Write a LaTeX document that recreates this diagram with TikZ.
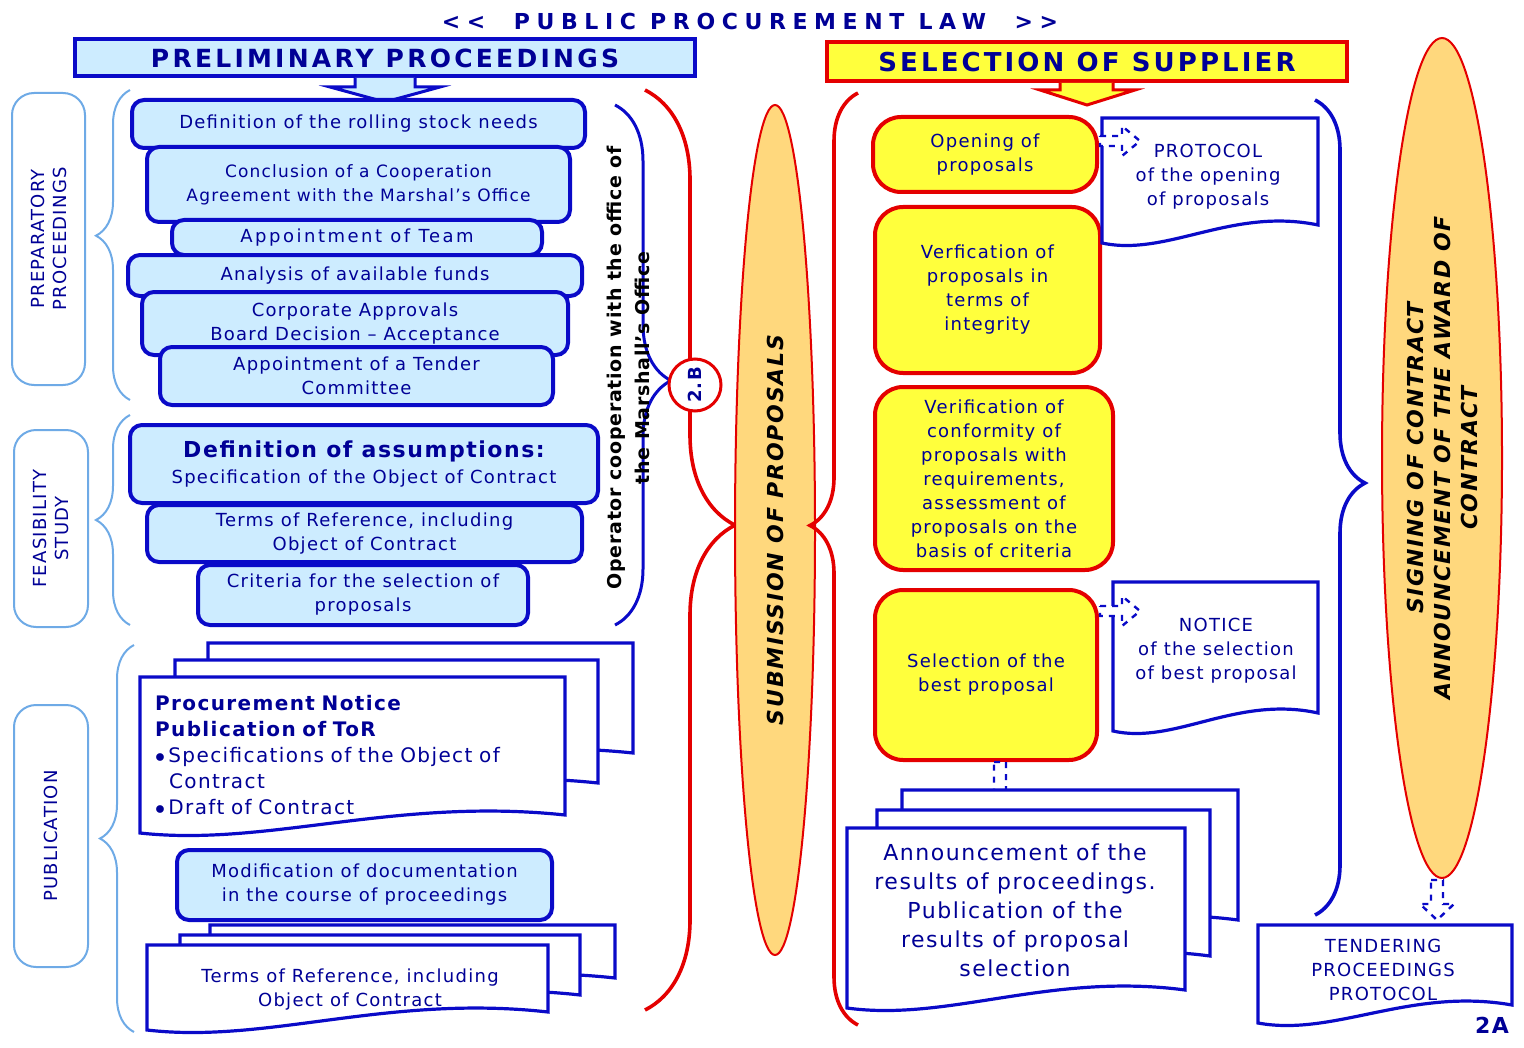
\documentclass[tikz,border=0pt]{standalone}
\usepackage{fontspec}
\setmainfont{DejaVu Sans}[LetterSpace=7]
\usetikzlibrary{shapes.geometric,decorations.pathreplacing}
\definecolor{dblue}{RGB}{10,10,200}
\definecolor{tblue}{RGB}{0,0,150}
\definecolor{lblue}{RGB}{205,236,255}
\definecolor{labblue}{RGB}{110,170,230}
\definecolor{yel}{RGB}{255,255,60}
\definecolor{rd}{RGB}{228,0,0}
\definecolor{orng}{RGB}{255,216,125}
\newcommand\bx[6]{\node[bb,minimum width=#4*0.5pt,minimum height=#5*0.5pt] (#1) at (#2,#3) {#6};}
\newcommand\yb[6]{\node[yb,minimum width=#4*0.5pt,minimum height=#5*0.5pt] (#1) at (#2,#3) {#6};}
\newcommand\docu[4]{\filldraw[doc] (#1,#2) -- (#3,#2) -- (#3,{#4-22}) .. controls ({#1+0.6*(#3-#1)},{#4-40}) and ({#1+0.3*(#3-#1)},{#4+10}) .. (#1,{#4-4}) -- cycle;}
% right-pointing hollow dashed arrow: start x, y
\newcommand\rarr[2]{\filldraw[harrow] (#1,{#2-5}) -- ({#1+22},{#2-5}) -- ({#1+22},{#2-15}) -- ({#1+40},#2) -- ({#1+22},{#2+15}) -- ({#1+22},{#2+5}) -- (#1,{#2+5}) -- cycle;}
\newcommand\darr[3]{\filldraw[harrow] ({#1-6},#2) -- ({#1+6},#2) -- ({#1+6},{#3-16}) -- ({#1+17},{#3-16}) -- (#1,#3) -- ({#1-17},{#3-16}) -- ({#1-6},{#3-16}) -- cycle;}
\begin{document}
\begin{tikzpicture}[x=0.5pt,y=-0.5pt,font=\fontsize{9}{12}\selectfont,
 bb/.style={draw=dblue,line width=2pt,fill=lblue,rounded corners=6pt,align=center,text=tblue,inner sep=1pt},
 yb/.style={draw=rd,line width=2pt,fill=yel,rounded corners=14pt,align=center,text=tblue,inner sep=1pt},
 doc/.style={draw=dblue,line width=1.6pt,fill=white},
 lab/.style={draw=labblue,line width=1pt,fill=white,rounded corners=11pt},
 labt/.style={rotate=90,text=tblue,align=center,font=\fontsize{9}{11}\selectfont},
 lbrace/.style={draw=labblue,line width=1pt,decorate,decoration={brace,amplitude=17pt}},
 harrow/.style={draw=dblue,dashed,line width=1.2pt,fill=white},
 dtext/.style={text=tblue,align=center}]
\useasboundingbox (0,0) rectangle (1524,1048);
% title
\node[text=tblue,font=\fontsize{11}{13}\bfseries\addfontfeature{LetterSpace=30}] (title) at (750,21) {<{}<\ \ PUBLIC PROCUREMENT LAW\ \ >{}>};
\node[draw=dblue,line width=2pt,fill=lblue,minimum width=310pt,minimum height=18.5pt,text=tblue,font=\fontsize{12.5}{15}\bfseries\addfontfeature{LetterSpace=13}] (prel) at (385,58) {PRELIMINARY PROCEEDINGS};
\filldraw[draw=dblue,line width=1.5pt,fill=lblue] (355,78) -- (355,87) -- (330,87) -- (385,102) -- (440,87) -- (415,87) -- (415,78);
\node[draw=rd,line width=2pt,fill=yel,minimum width=260pt,minimum height=19.5pt,text=tblue,font=\fontsize{13}{15}\bfseries\addfontfeature{LetterSpace=12}] (sel) at (1087,62) {SELECTION OF SUPPLIER};
\filldraw[draw=rd,line width=1.5pt,fill=yel] (1060,83) -- (1060,90) -- (1040,90) -- (1087,105) -- (1135,90) -- (1113,90) -- (1113,83);
% side labels
\node[lab,minimum width=36.5pt,minimum height=146pt] (prep) at (48.5,239) {};
\node[labt] at (prep) {PREPARATORY\\PROCEEDINGS};
\node[lab,minimum width=37pt,minimum height=98.5pt] (feas) at (51,528.5) {};
\node[labt] at (feas) {FEASIBILITY\\STUDY};
\node[lab,minimum width=37pt,minimum height=131pt] (pub) at (51,836) {};
\node[labt] at (pub) {PUBLICATION};
\draw[lbrace,decoration={aspect=0.53}] (130,400) -- (130,90);
\draw[lbrace,decoration={aspect=0.5}] (130,625) -- (130,415);
\draw[lbrace,decoration={aspect=0.5}] (134,1032) -- (134,645);
% blue boxes
\bx{b1}{358.5}{124}{453}{48}{Definition of the rolling stock needs}
\bx{b2}{358.5}{184.5}{423}{75}{\fontsize{8.5}{11}\selectfont Conclusion of a Cooperation\\\fontsize{8.5}{11}\selectfont Agreement with the Marshal’s Office}
\bx{b3}{357}{237.5}{370}{35}{\addfontfeature{LetterSpace=14}Appointment of Team}
\bx{b4}{355}{275.5}{454}{41}{Analysis of available funds}
\bx{b5}{355}{323.5}{426}{63}{Corporate Approvals\\Board Decision – Acceptance}
\bx{b6}{356.5}{376}{393}{58}{Appointment of a Tender\\Committee}
\bx{b7}{364}{464}{468}{78}{{\fontsize{11}{14}\bfseries Definition of assumptions:}\\[1pt]Specification of the Object of Contract}
\bx{b8}{364.5}{533.5}{435}{57}{Terms of Reference, including\\Object of Contract}
\bx{b9}{363}{595}{330}{60}{Criteria for the selection of\\proposals}
\bx{b10}{364.5}{885}{375}{70}{Modification of documentation\\in the course of proceedings}
% publication docs
\docu{208}{643}{633}{775}
\docu{175}{660}{598}{805}
\docu{140}{677}{565}{837}
\node[anchor=north west,text=tblue,text width=205pt,align=left,font=\fontsize{10}{13}\selectfont] (pn) at (148,688) {{\bfseries Procurement Notice\\Publication of ToR}\\$\bullet$\,Specifications of the Object of\\\hspace*{7pt}Contract\\$\bullet$\,Draft of Contract};
\docu{210}{925}{615}{1000}
\docu{180}{935}{580}{1017}
\docu{147}{945}{548}{1034}
\node[dtext] (tor) at (350,990) {Terms of Reference, including\\Object of Contract};
% operator brace
\draw[draw=dblue,line width=1.5pt,decorate,decoration={brace,amplitude=28pt,aspect=0.53}] (615,105) -- (615,625);
\node[rotate=90,align=center,font=\fontsize{9.5}{14}\bfseries\addfontfeature{LetterSpace=4}] (op) at (628,368) {Operator cooperation with the office of\\the Marshall’s Office};
% red brace
\draw[draw=rd,line width=1.8pt,decorate,decoration={brace,amplitude=45pt,aspect=0.473}] (645,90) -- (645,1010);
\node[circle,draw=rd,line width=1.5pt,fill=white,minimum size=26pt,inner sep=0pt] (c2b) at (695,385) {};
\node[rotate=90,text=tblue,font=\fontsize{9}{10}\bfseries] at (c2b) {2.B};
% submission ellipse
\node[ellipse,draw=rd,line width=1pt,fill=orng,minimum width=40pt,minimum height=425pt] (sub) at (775,530) {};
\node[rotate=90,font=\fontsize{11}{13}\bfseries\itshape\addfontfeature{LetterSpace=8}] at (sub) {SUBMISSION OF PROPOSALS};
\draw[draw=rd,line width=1.8pt,decorate,decoration={brace,amplitude=24pt,aspect=0.536}] (858,1025) -- (858,93);
% yellow boxes
\yb{y1}{985}{154.5}{224}{75}{Opening of\\proposals}
\yb{y2}{987.5}{290}{225}{166}{Verfication of\\proposals in\\terms of\\integrity}
\yb{y3}{994}{478.5}{238}{183}{Verification of\\conformity of\\proposals with\\requirements,\\assessment of\\proposals on the\\basis of criteria}
\yb{y4}{986}{675}{222}{170}{Selection of the\\best proposal}
% right docs
\docu{1102}{118}{1318}{247}
\node[dtext] (prot) at (1208,177) {PROTOCOL\\of the opening\\of proposals};
\docu{1113}{582}{1318}{735}
\node[dtext] (noti) at (1216,651) {NOTICE\\of the selection\\of best proposal};
\rarr{1100}{141}
\rarr{1100}{611}
\darr{1000}{762}{808}
\docu{902}{790}{1238}{942}
\docu{877}{810}{1210}{978}
\docu{847}{828}{1185}{1012}
\node[dtext,font=\fontsize{11}{14.5}\selectfont] (ann) at (1015,910) {Announcement of the\\results of proceedings.\\Publication of the\\results of proposal\\selection};
% right brace
\draw[draw=dblue,line width=1.8pt,decorate,decoration={brace,amplitude=25pt,aspect=0.47}] (1315,100) -- (1315,915);
\node[ellipse,draw=rd,line width=1pt,fill=orng,minimum width=60pt,minimum height=420pt] (sign) at (1442,458) {};
\node[rotate=90,align=center,font=\fontsize{11}{13.5}\bfseries\itshape] at (sign) {SIGNING OF CONTRACT\\ANNOUNCEMENT OF THE AWARD OF\\CONTRACT};
\darr{1437}{880}{920}
\docu{1258}{925}{1512}{1027}
\node[dtext] (tend) at (1383,970) {TENDERING\\PROCEEDINGS\\PROTOCOL};
\node[text=tblue,font=\fontsize{11}{13}\bfseries] (two) at (1492,1025) {2A};
\end{tikzpicture}
\end{document}
